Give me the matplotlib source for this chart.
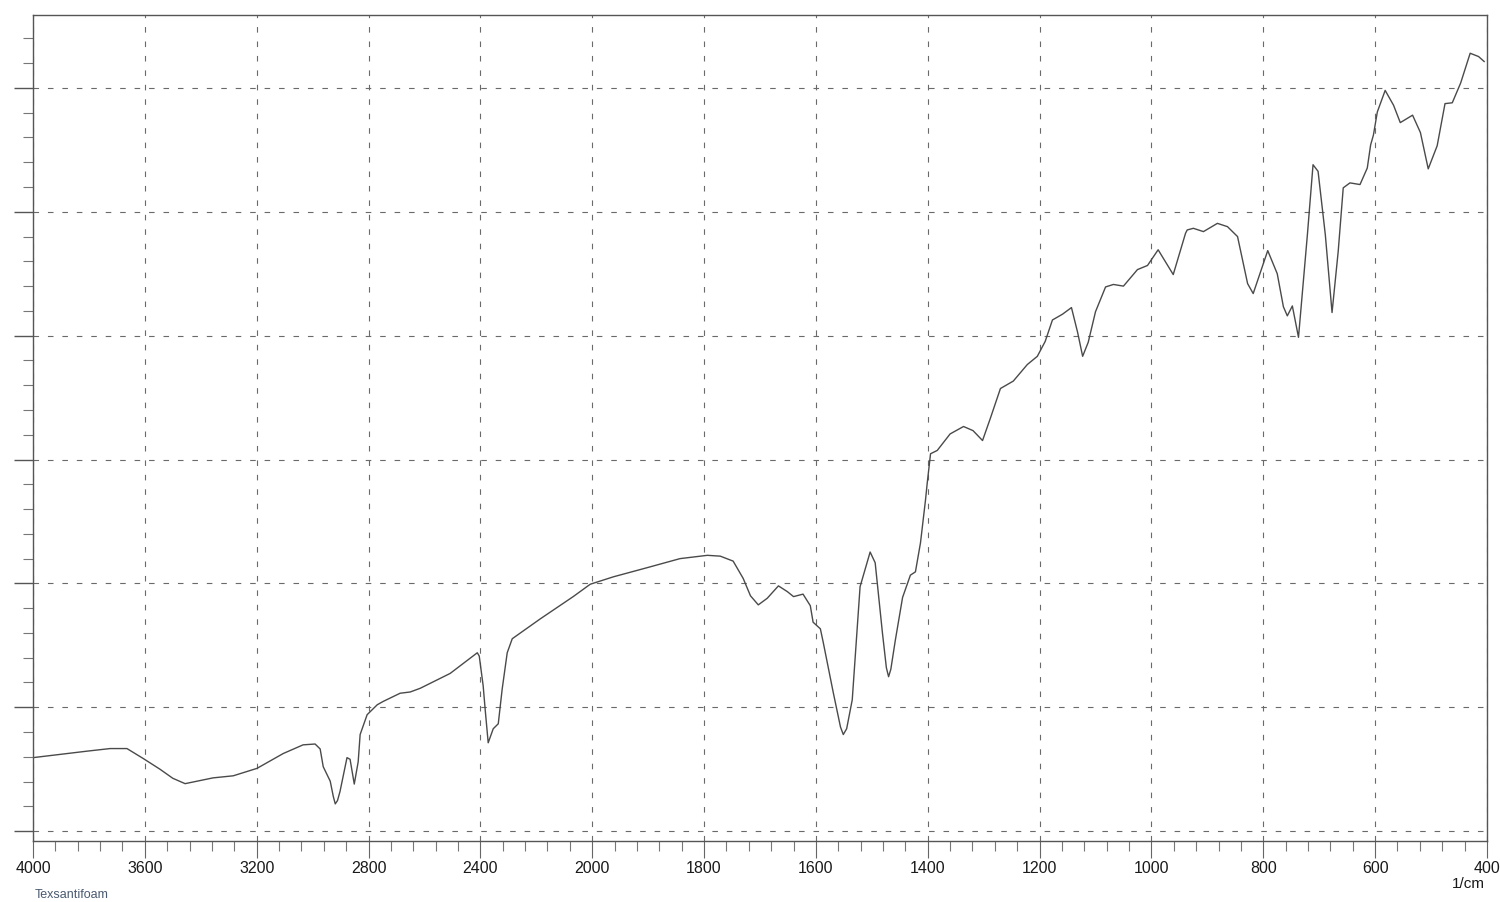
#ir spectrum - Texsantifoam
import matplotlib
matplotlib.use('Agg')
import matplotlib.pyplot as plt
from matplotlib.ticker import FixedLocator, NullFormatter
import numpy as np

plt.rcParams['font.family'] = ['Liberation Sans', 'DejaVu Sans']

#wavenumbers (1/cm)
wavenumber = [4000, 3878, 3803, 3724, 3664, 3606, 3546, 3500, 3456, 3420, 3356, 3284, 3199,
              3105, 3034, 2991, 2973, 2962, 2937, 2926, 2919, 2911, 2902, 2877, 2866, 2851,
              2837, 2830, 2805, 2769, 2748, 2687, 2651, 2615, 2508, 2411, 2404, 2390, 2383,
              2372, 2354, 2336, 2322, 2304, 2286, 2186, 2068, 2007, 1962, 1902, 1843, 1794,
              1771, 1748, 1730, 1717, 1703, 1687, 1667, 1651, 1640, 1623, 1610, 1605, 1592,
              1587, 1569, 1556, 1551, 1545, 1535, 1521, 1503, 1494, 1481, 1474, 1470, 1466,
              1458, 1445, 1431, 1422, 1413, 1404, 1401, 1395, 1383, 1360, 1336, 1319, 1302,
              1288, 1270, 1247, 1222, 1204, 1190, 1177, 1159, 1143, 1132, 1123, 1113, 1100,
              1082, 1068, 1050, 1025, 1007, 988, 961, 939, 936, 925, 907, 882, 864, 846, 828,
              818, 792, 775, 764, 757, 748, 737, 721, 711, 702, 689, 677, 666, 657, 645,
              627, 614, 608, 603, 596, 582, 567, 555, 533, 519, 505, 489, 475, 462, 447,
              430, 415, 405]
#transmittance (arbitrary %, no y labels on the print)
transmittance = [10.1, 10.6, 10.9, 11.2, 11.2, 10.0, 8.7, 7.6, 6.95, 7.2, 7.65, 7.9, 8.8,
                 10.6, 11.65, 11.75, 11.15, 9.0, 7.25, 5.4, 4.5, 4.9, 6.0, 10.1, 9.9, 6.9,
                 9.6, 12.9, 15.3, 16.5, 16.9, 17.9, 18.05, 18.5, 20.3, 22.8, 22.4, 18.8, 16.0,
                 11.9, 13.6, 14.2, 18.4, 22.8, 24.5, 26.9, 29.6, 31.1, 32.0, 33.1, 34.2, 34.6,
                 34.5, 33.9, 31.8, 29.7, 28.6, 29.4, 30.9, 30.2, 29.6, 29.9, 28.5, 26.5, 25.7,
                 24.1, 18.0, 13.8, 12.9, 13.6, 17.1, 30.8, 35.0, 33.7, 25.2, 21.0, 19.9, 20.8,
                 24.3, 29.5, 32.2, 32.6, 36.1, 41.3, 43.3, 46.9, 47.3, 49.3, 50.2, 49.7, 48.5,
                 51.2, 54.8, 55.7, 57.7, 58.7, 60.5, 63.1, 63.8, 64.6, 61.6, 58.7, 60.4, 64.1,
                 67.1, 67.4, 67.2, 69.2, 69.7, 71.6, 68.6, 73.6, 74.0, 74.2, 73.8, 74.8, 74.4, 73.2, 67.5,
                 66.3, 71.5, 68.7, 64.7, 63.6, 64.8, 61.0, 73.5, 81.9, 81.1, 73.4, 64.0, 71.4, 79.1, 79.7,
                 79.5, 81.5, 84.3, 85.5, 88.3, 90.9, 89.1, 87.0, 87.9, 85.8, 81.4, 84.2, 89.3, 89.4, 91.8,
                 95.4, 95.0, 94.4]

major_ticks = [4000, 3600, 3200, 2800, 2400, 2000, 1800, 1600, 1400, 1200, 1000, 800, 600, 400]
minor_ticks = list(range(4000, 2000, -80)) + list(range(2000, 399, -40))

# scale is split: 400 per division above 2000, 200 per division below
def fwd(w):
    w = np.asarray(w, dtype=float)
    return np.where(w >= 2000, (4000 - w) / 400.0, 5 + (2000 - w) / 200.0)

def inv(p):
    p = np.asarray(p, dtype=float)
    return np.where(p <= 5, 4000 - p * 400.0, 2000 - (p - 5) * 200.0)

fig = plt.figure(figsize=(15, 9.03), dpi=100)
ax = fig.add_axes([0.022, 0.0675, 0.9693, 0.9145])
ax.set_xscale('function', functions=(fwd, inv))
ax.set_xlim(400, 4000)
ax.set_ylim(0, 100)

ax.plot(wavenumber, transmittance, color='#4a4a4a', linewidth=1.0)

ax.xaxis.set_major_locator(FixedLocator(major_ticks))
ax.xaxis.set_minor_locator(FixedLocator(minor_ticks))
ax.set_xticklabels([str(t) for t in major_ticks])
ax.xaxis.set_minor_formatter(NullFormatter())

ygrid = [1.2 + 15 * k for k in range(7)]
ax.yaxis.set_major_locator(FixedLocator(ygrid))
ax.yaxis.set_minor_locator(FixedLocator([1.2 + 3 * k for k in range(33)]))
ax.set_yticklabels([])

ax.tick_params(axis='x', which='major', direction='out', length=12, width=0.8,
               color='#666666', labelsize=11.5, pad=2, labelcolor='#1a1a1a')
ax.tick_params(axis='x', which='minor', direction='out', length=7, width=0.8, color='#777777')
ax.tick_params(axis='y', which='major', direction='out', length=14, width=1.0, color='#555555')
ax.tick_params(axis='y', which='minor', direction='out', length=7, width=0.8, color='#777777')

ax.grid(True, which='major', axis='both', color='#6a6a6a', linewidth=0.8, linestyle=(0, (5, 8)))

for s in ax.spines.values():
    s.set_color('#555555')
    s.set_linewidth(1.0)

fig.text(0.99, 0.021, '1/cm', ha='right', va='center', fontsize=11, color='#1a1a1a')
fig.text(0.023, 0.009, 'Texsantifoam', ha='left', va='center', fontsize=9, color='#4a5a70')

fig.savefig('out.png', dpi=100)
